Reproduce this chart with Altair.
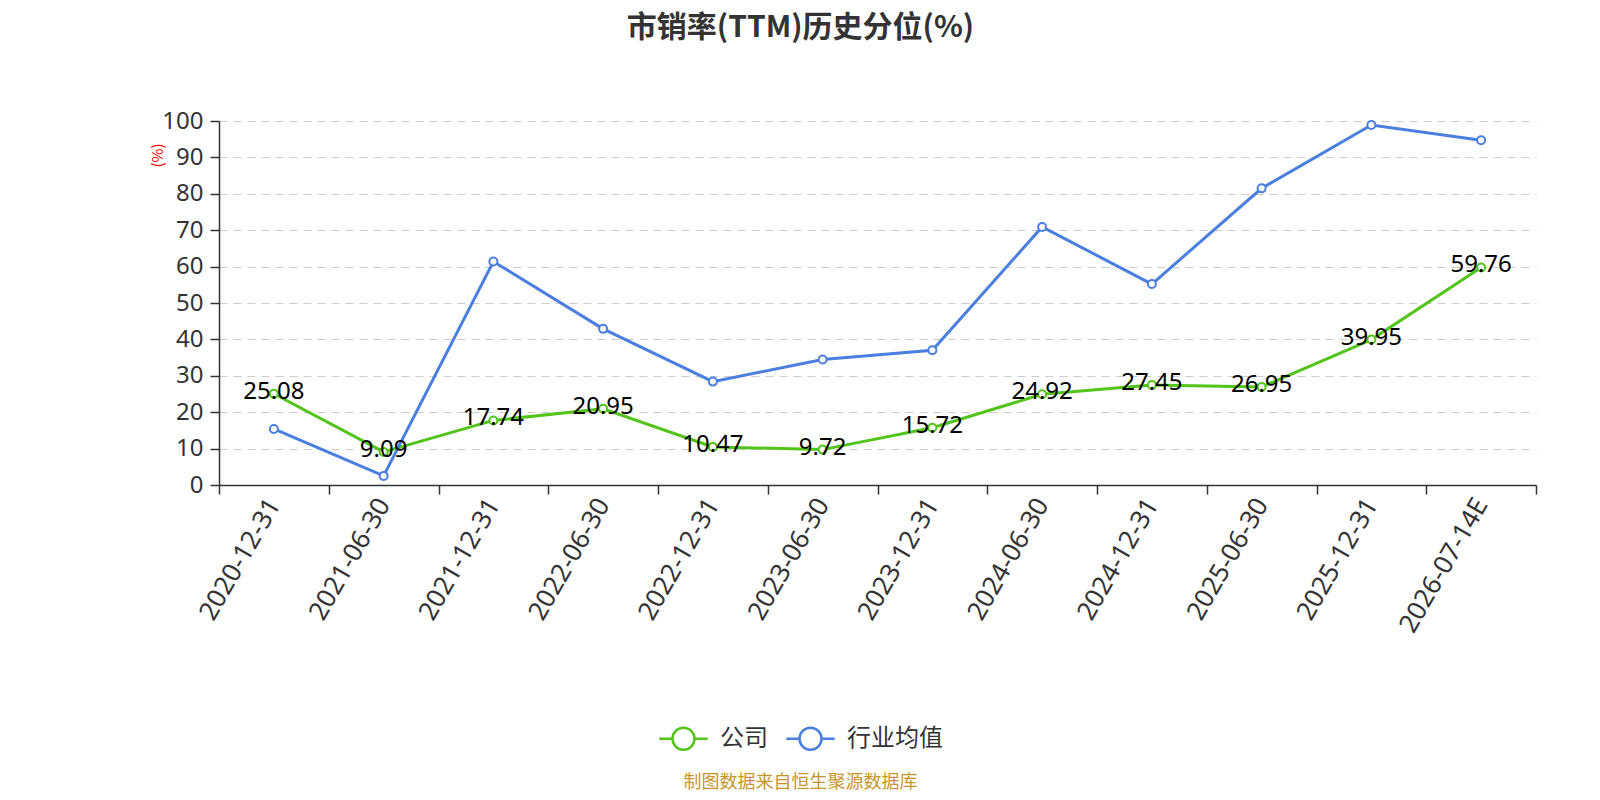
import altair as alt
import pandas as pd

dates = ["2020-12-31", "2021-06-30", "2021-12-31", "2022-06-30", "2022-12-31", "2023-06-30",
         "2023-12-31", "2024-06-30", "2024-12-31", "2025-06-30", "2025-12-31", "2026-07-14E"]
company = [25.08, 9.09, 17.74, 20.95, 10.47, 9.72, 15.72, 24.92, 27.45, 26.95, 39.95, 59.76]
industry = [15.4, 2.5, 61.4, 42.9, 28.4, 34.5, 37.0, 70.9, 55.2, 81.5, 98.9, 94.7]
y_ticks = [0, 10, 20, 30, 40, 50, 60, 70, 80, 90, 100]
series = ["公司", "行业均值"]
colors = ["#52c41a", "#4a7fe0"]

rows = []
for i, d in enumerate(dates):
    rows.append({"date": d, "series": series[0], "value": company[i]})
    rows.append({"date": d, "series": series[1], "value": industry[i]})
df = pd.DataFrame(rows)

CJK = "Noto Sans CJK SC"
LAT = "'Noto Sans', 'Noto Sans CJK SC', sans-serif"

x_enc = alt.X(
    "date:N", sort=dates,
    scale=alt.Scale(type="band", paddingInner=0, paddingOuter=0),
    axis=alt.Axis(
        title="制图数据来自恒生聚源数据库", titleColor="#c8952a", titleFontSize=18,
        titleFontWeight="normal", titleFont=CJK, titleX=581, titleY=297,
        titleAlign="center", titleBaseline="middle",
        tickBand="extent", labelAngle=-60, labelAlign="right", labelBaseline="middle",
        labelFontSize=26, labelColor="#333333", labelFont=LAT, labelPadding=6,
        labelOverlap=False,
        domainColor="#333333", domainWidth=1.5, tickColor="#333333", tickWidth=1.5,
        tickSize=9, grid=False,
    ),
)
y_enc = alt.Y(
    "value:Q", scale=alt.Scale(domain=[0, 100]),
    axis=alt.Axis(
        title="(%)", titleColor="red", titleFontSize=15, titleFontWeight="normal",
        titleFont=CJK, titleX=-62, titleY=34, titleAngle=-90, titleAlign="center",
        titleBaseline="middle",
        values=y_ticks, tickCount=20, labelOverlap=False, labelFontSize=24,
        labelColor="#333333", labelFont=LAT, labelPadding=7,
        domainColor="#333333", domainWidth=1.5,
        tickColor="#333333", tickWidth=1.5, tickSize=9,
        grid=True, gridColor="#cccccc", gridDash=[8, 6], gridWidth=1.2,
    ),
)
color_scale = alt.Scale(domain=series, range=colors)

base = alt.Chart(df)

lines = base.mark_line(strokeWidth=3).encode(
    x=x_enc, y=y_enc,
    color=alt.Color(
        "series:N", scale=color_scale, sort=series,
        legend=alt.Legend(
            title=None, orient="none", legendX=441, legendY=594, direction="horizontal",
            labelFontSize=24, labelColor="#333333", labelFont=CJK, columnPadding=13,
            symbolType="M-1.1,0L-0.5,0M0.5,0L1.1,0M-0.5,0A0.5,0.5,0,1,1,0.5,0A0.5,0.5,0,1,1,-0.5,0Z",
            symbolSize=1936, symbolStrokeWidth=2.5, symbolFillColor="white", labelOffset=13,
        ),
    ),
)

points = base.mark_point(filled=True, fill="white", size=64, strokeWidth=2, opacity=1).encode(
    x=x_enc, y=y_enc,
    stroke=alt.Color("series:N", scale=color_scale, legend=None),
)

labels = base.transform_filter(alt.datum.series == "公司").mark_text(
    fontSize=24, color="black", font=LAT, baseline="middle", dy=-2
).encode(
    x=x_enc, y=y_enc,
    text=alt.Text("value:Q", format=".2f"),
)

chart = alt.layer(lines, points, labels).properties(
    width=1317, height=364,
    view=alt.ViewBackground(stroke="transparent", strokeWidth=0),
    title=alt.TitleParams(
        text="市销率(TTM)历史分位(%)", fontSize=30, fontWeight="bold", color="#333333",
        font=CJK, anchor="middle", dx=-77, offset=66,
    ),
    autosize=alt.AutoSizeParams(type="none"),
    padding={"left": 211, "top": 113, "right": 56, "bottom": 307},
).configure_view(strokeWidth=0, stroke="transparent").configure(background="white")

chart.save("out.html", embed_options={"renderer": "svg", "actions": False})
